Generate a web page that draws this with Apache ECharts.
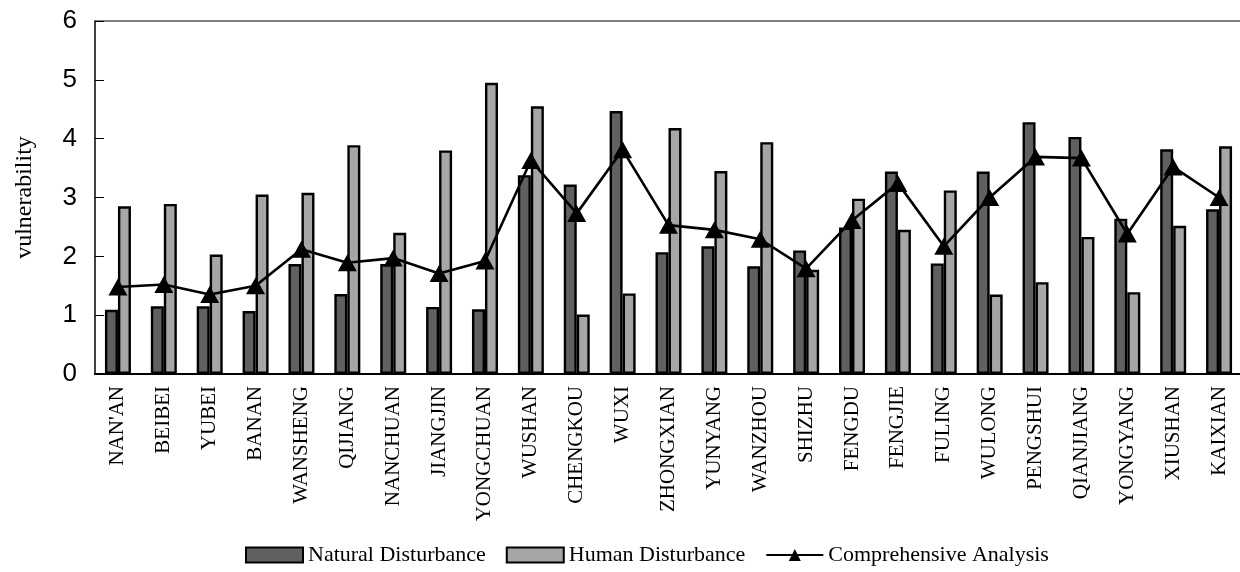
<!DOCTYPE html>
<html>
<head>
<meta charset="utf-8">
<script src="https://cdn.jsdelivr.net/npm/echarts@6/dist/echarts.min.js"></script>
<style>html,body{margin:0;padding:0;background:#fff;}#c{width:1240px;height:572px;}</style>
</head>
<body>
<div id="c"></div>
<script>
const categories = ["NAN'AN","BEIBEI","YUBEI","BANAN","WANSHENG","QIJIANG","NANCHUAN","JIANGJIN","YONGCHUAN","WUSHAN","CHENGKOU","WUXI","ZHONGXIAN","YUNYANG","WANZHOU","SHIZHU","FENGDU","FENGJIE","FULING","WULONG","PENGSHUI","QIANJIANG","YONGYANG","XIUSHAN","KAIXIAN"];
const natural = [1.09,1.15,1.15,1.07,1.87,1.36,1.87,1.14,1.10,3.38,3.22,4.47,2.07,2.17,1.83,2.10,2.49,3.44,1.88,3.44,4.28,4.03,2.64,3.82,2.80];
const human = [2.85,2.89,2.03,3.05,3.08,3.89,2.40,3.80,4.95,4.55,1.01,1.37,4.18,3.45,3.94,1.77,2.98,2.45,3.12,1.35,1.56,2.33,1.39,2.52,3.87];
const comprehensive = [1.48,1.52,1.35,1.50,2.12,1.89,1.97,1.71,1.92,3.63,2.73,3.81,2.53,2.45,2.29,1.79,2.61,3.24,2.17,3.00,3.69,3.67,2.38,3.52,3.00];
const yTicks = [0,1,2,3,4,5,6];

const chart = echarts.init(document.getElementById('c'), null, {renderer:'canvas'});
const serif = '"Liberation Serif","Times New Roman",serif';
chart.setOption({
  animation:false,
  backgroundColor:'#fff',
  grid:{left:95,top:21,width:1147,height:353,show:false,containLabel:false,outerBoundsMode:'none'},
  legend:{
    left:240, top:539,
    itemWidth:57, itemHeight:15, itemGap:20,
    textStyle:{fontFamily:serif,fontSize:22,color:'#000'},
    data:[
      {name:'Natural Disturbance',icon:'rect'},
      {name:'Human Disturbance',icon:'rect'},
      {name:'Comprehensive Analysis'}
    ]
  },
  xAxis:[{
    type:'category', data:categories, boundaryGap:true,
    axisLine:{lineStyle:{color:'#000',width:2}},
    axisTick:{inside:true,length:7,lineStyle:{color:'#444',width:1}},
    axisLabel:{rotate:90,fontFamily:serif,fontSize:21,color:'#000',margin:12,interval:0},
    splitLine:{show:false}
  },{
    type:'category', data:categories, position:'top',
    axisLine:{show:true,lineStyle:{color:'#555',width:1.5}},
    axisTick:{show:false}, axisLabel:{show:false}, splitLine:{show:false}
  }],
  yAxis:{
    type:'value', min:yTicks[0], max:yTicks[yTicks.length-1], interval:1,
    name:'vulnerability', nameLocation:'middle', nameGap:58,
    nameTextStyle:{fontFamily:serif,fontSize:24,color:'#000'},
    axisLine:{show:true,lineStyle:{color:'#000',width:1.5}},
    axisTick:{show:true,inside:true,length:9,lineStyle:{color:'#000',width:1}},
    axisLabel:{fontFamily:'"Liberation Sans",Arial,sans-serif',fontSize:26,color:'#000',margin:18},
    splitLine:{show:false}
  },
  series:[
    {name:'Natural Disturbance',type:'bar',data:natural,barWidth:13,barGap:'0%',
     itemStyle:{color:'#606060',borderColor:'#000',borderWidth:2.4}},
    {name:'Human Disturbance',type:'bar',data:human,barWidth:13,barGap:'0%',
     itemStyle:{color:'#a6a6a6',borderColor:'#000',borderWidth:2.4}},
    {name:'Comprehensive Analysis',type:'line',data:comprehensive,
     symbol:'triangle',symbolSize:[19,17],showSymbol:true,
     lineStyle:{color:'#000',width:2.6},itemStyle:{color:'#000'},z:5}
  ]
});
</script>
</body>
</html>
